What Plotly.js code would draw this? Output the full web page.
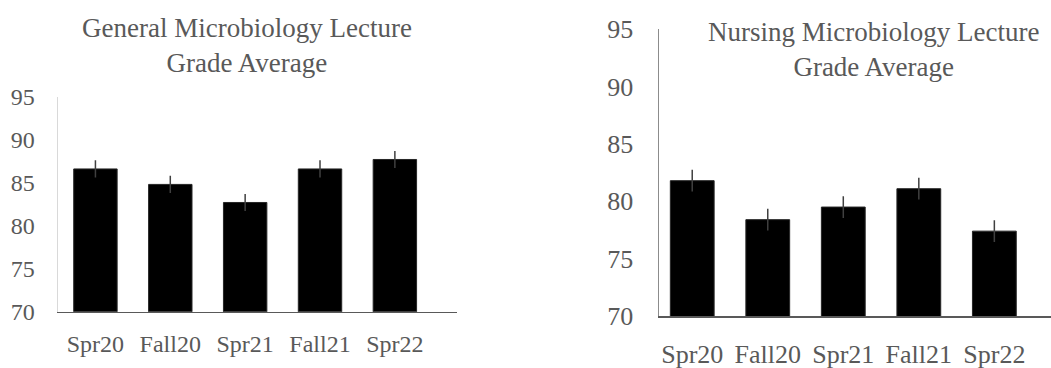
<!DOCTYPE html>
<html>
<head>
<meta charset="utf-8">
<script src="https://cdn.plot.ly/plotly-3.0.1.min.js"></script>
<style>html,body{margin:0;padding:0;background:#fff;overflow:hidden;}#chart{width:1051px;height:368px;}</style>
</head>
<body>
<div id="chart"></div>
<script>
const categories = ["Spr20", "Fall20", "Spr21", "Fall21", "Spr22"];
const generalValues = [86.6, 84.8, 82.7, 86.6, 87.7];
const generalErrors = [1.0, 1.0, 1.0, 1.0, 1.0];
const nursingValues = [81.8, 78.4, 79.5, 81.1, 77.4];
const nursingErrors = [0.95, 0.95, 0.95, 0.95, 0.95];
const yTicks = [70, 75, 80, 85, 90, 95];
const generalTitle = "General Microbiology Lecture<br>Grade Average";
const nursingTitle = "Nursing Microbiology Lecture<br>Grade Average";

const serif = "Liberation Serif";
const txt = "#595959";

const traces = [
  {
    type: "bar", x: categories, y: generalValues, xaxis: "x", yaxis: "y",
    marker: {color: "#000000", line: {color: "#262626", width: 1}},
    error_y: {type: "data", array: generalErrors, visible: true, color: "#404040", thickness: 1.5, width: 0},
    hoverinfo: "none"
  },
  {
    type: "bar", x: categories, y: nursingValues, xaxis: "x2", yaxis: "y2",
    marker: {color: "#000000", line: {color: "#262626", width: 1}},
    error_y: {type: "data", array: nursingErrors, visible: true, color: "#404040", thickness: 1.5, width: 0},
    hoverinfo: "none"
  }
];

const layout = {
  width: 1051, height: 368,
  margin: {l: 0, r: 0, t: 0, b: 0},
  paper_bgcolor: "#ffffff", plot_bgcolor: "rgba(0,0,0,0)",
  showlegend: false,
  bargap: 0.42,
  xaxis: {
    domain: [58/1051, 457/1051], anchor: "y", type: "category",
    range: [-0.5, 4.83], showgrid: false, zeroline: false,
    showline: true, linecolor: "#595959", linewidth: 1.5,
    ticks: "outside", ticklen: 10, tickcolor: "rgba(0,0,0,0)",
    tickfont: {family: serif, size: 24, color: txt}
  },
  yaxis: {
    domain: [56.3/368, 271.3/368], anchor: "x",
    range: [70, 95], tickvals: yTicks, showgrid: false, zeroline: false,
    showline: true, linecolor: "#d9d9d9", linewidth: 1.5,
    ticks: "outside", ticklen: 17, tickcolor: "rgba(0,0,0,0)",
    tickfont: {family: serif, size: 24, color: txt}
  },
  xaxis2: {
    domain: [659/1051, 1], anchor: "y2", type: "category",
    range: [-0.44, 4.75], showgrid: false, zeroline: false,
    showline: true, linecolor: "#595959", linewidth: 1.5,
    ticks: "outside", ticklen: 14, tickcolor: "rgba(0,0,0,0)",
    tickfont: {family: serif, size: 26, color: txt}
  },
  yaxis2: {
    domain: [52/368, 338.7/368], anchor: "x2",
    range: [70, 95], tickvals: yTicks, showgrid: false, zeroline: false,
    showline: true, linecolor: "#8c8c8c", linewidth: 1.5,
    ticks: "outside", ticklen: 19, tickcolor: "rgba(0,0,0,0)",
    tickfont: {family: serif, size: 26, color: txt}
  },
  annotations: [
    {
      text: generalTitle, xref: "paper", yref: "paper", x: 247/1051, y: (368-45.5)/368,
      xanchor: "center", yanchor: "middle", showarrow: false, align: "center",
      font: {family: serif, size: 27, color: txt}
    },
    {
      text: nursingTitle, xref: "paper", yref: "paper", x: 873.5/1051, y: (368-49.2)/368,
      xanchor: "center", yanchor: "middle", showarrow: false, align: "center",
      font: {family: serif, size: 27, color: txt}
    }
  ]
};

Plotly.newPlot("chart", traces, layout, {displayModeBar: false, staticPlot: true});
</script>
</body>
</html>
